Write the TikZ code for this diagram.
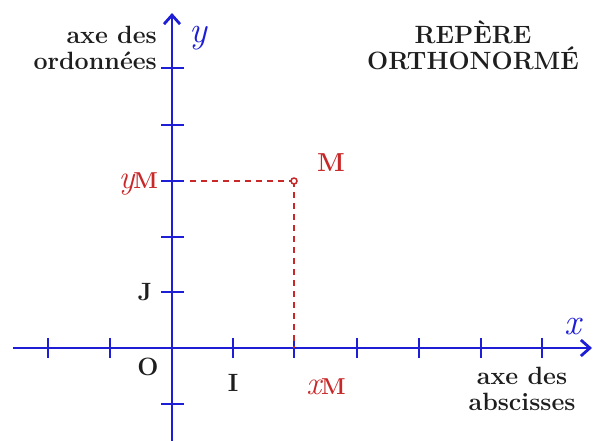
\documentclass[tikz,border=0pt]{standalone}
\usetikzlibrary{arrows.meta}
\definecolor{axblue}{RGB}{30,30,215}
\definecolor{ptred}{RGB}{200,40,40}
\definecolor{txtgray}{RGB}{30,30,30}
\begin{document}
\begin{tikzpicture}[x=1pt,y=-1pt,
  axis/.style={draw=axblue,line width=2.8pt,-{Straight Barb[length=9pt,width=16pt,line width=2.8pt]}},
  tickmark/.style={draw=axblue,line width=2.8pt},
  guide/.style={draw=ptred,line width=1.9pt,dash pattern=on 6pt off 5pt},
  lbl/.style={text=txtgray,font=\fontsize{25}{26}\selectfont\bfseries,inner sep=0pt},
  rlbl/.style={text=ptred,font=\fontsize{26}{26}\selectfont\bfseries,inner sep=0pt},
  rvar/.style={text=ptred,font=\fontsize{33}{33}\selectfont\itshape,inner sep=0pt},
  axlbl/.style={text=axblue,font=\fontsize{37}{37}\selectfont\itshape,inner sep=0pt}]
\useasboundingbox (0,0) rectangle (594,440);
\fill[white] (0,0) rectangle (594,440);
\coordinate (O) at (172,348);
\coordinate (xs) at (13,348);
\coordinate (xe) at (592,348);
\coordinate (yb) at (172,442);
\coordinate (yt) at (172,13);
\coordinate (M) at (294,181);
\coordinate (yMt) at (190,181);
\coordinate (xMt) at (294,348);
\draw[axis] (xs) -- (xe);
\draw[axis] (yb) -- (yt);
\foreach \x in {48,110,233,294,357,419,481,542}
  \draw[tickmark] (\x,338) -- (\x,358);
\foreach \y in {68,125,181,237,292,404}
  \draw[tickmark] (161,\y) -- (184,\y);
\draw[guide] (yMt) -- (M);
\draw[guide] (M) -- (xMt);
\node[circle,draw=ptred,line width=1.5pt,fill=white,minimum size=6pt,inner sep=0pt] (Mpt) at (M) {};
\node[rlbl] (Mlbl) at (331,163) {M};
\node[rvar,anchor=east] (yMlbl) at (158,184) {y\kern-1pt{\fontsize{23}{23}\selectfont\upshape\bfseries M}};
\node[rvar] (xMlbl) at (326,387) {x{\fontsize{23}{23}\selectfont\upshape\bfseries M}};
\node[lbl] (J) at (145,292) {J};
\node[lbl] (Olbl) at (148,367) {O};
\node[lbl] (I) at (233,383) {I};
\node[axlbl] (ylbl) at (198,38) {y};
\node[axlbl] (xlbl) at (573,327) {x};
\node[lbl,align=right,anchor=east] (ord) at (157,48) {axe des\\ordonnées};
\node[lbl,align=center] (abs) at (522,389) {axe des\\abscisses};
\node[lbl,align=center] (title) at (473,45) {REPÈRE\\ORTHONORMÉ};
\end{tikzpicture}
\end{document}
